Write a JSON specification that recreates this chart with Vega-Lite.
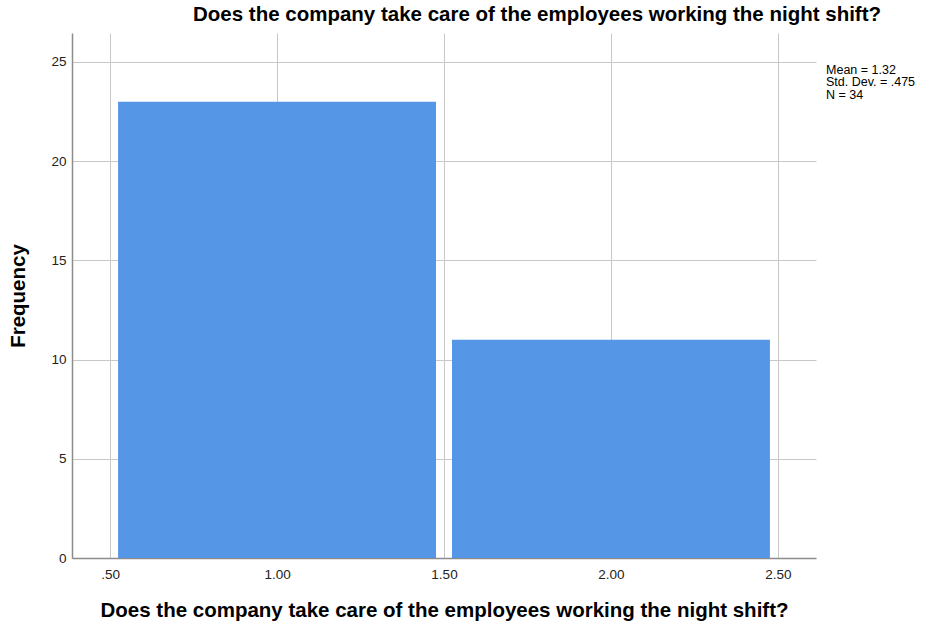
{
  "$schema": "https://vega.github.io/schema/vega-lite/v6.json",
  "width": 744,
  "height": 525,
  "autosize": {"type": "none"},
  "padding": {"left": 72, "top": 33, "right": 115, "bottom": 70},
  "background": "white",
  "title": {
    "text": "Does the company take care of the employees working the night shift?",
    "anchor": "start",
    "frame": "group",
    "dx": 121,
    "offset": 8,
    "font": "Liberation Sans",
    "fontSize": 20.5,
    "fontWeight": "bold",
    "color": "#000000"
  },
  "config": {
    "view": {"stroke": null},
    "axis": {
      "labelFont": "Liberation Sans",
      "labelFontSize": 13.5,
      "labelColor": "#222222",
      "titleFont": "Liberation Sans",
      "titleFontSize": 20.5,
      "titleFontWeight": "bold",
      "titleColor": "#000000",
      "gridColor": "#c8c8c8",
      "gridWidth": 1,
      "domainColor": "#8c8c8c",
      "domainWidth": 1.5,
      "ticks": false
    }
  },
  "layer": [
    {
      "data": {"values": [
        {"bin_start": 0.5, "bin_end": 1.5, "count": 23},
        {"bin_start": 1.5, "bin_end": 2.5, "count": 11}
      ]},
      "mark": {"type": "bar", "color": "#5596e6", "xOffset": 8, "x2Offset": -8, "clip": false},
      "encoding": {
        "x": {
          "field": "bin_start",
          "type": "quantitative",
          "scale": {"domain": [0.386, 2.614], "nice": false, "zero": false},
          "axis": {
            "title": "Does the company take care of the employees working the night shift?",
            "values": [0.5, 1, 1.5, 2, 2.5],
            "labelExpr": "datum.value < 1 ? '.50' : format(datum.value, '.2f')",
            "labelPadding": 9,
            "titlePadding": 20,
            "zindex": 0
          }
        },
        "x2": {"field": "bin_end"},
        "y": {
          "field": "count",
          "type": "quantitative",
          "scale": {"domain": [0, 26.46], "nice": false},
          "axis": {
            "title": "Frequency",
            "values": [0, 5, 10, 15, 20, 25],
            "labelPadding": 6,
            "titlePadding": 22,
            "zindex": 0
          }
        },
        "y2": {"datum": 0}
      }
    },
    {
      "data": {"values": [
        {"x": 2.644, "y": 24.9, "label": ["Mean = 1.32", "Std. Dev. = .475", "N = 34"]}
      ]},
      "mark": {"type": "text", "align": "left", "baseline": "top", "font": "Liberation Sans", "fontSize": 12.5, "lineHeight": 12.5, "color": "#000000", "clip": false},
      "encoding": {
        "x": {"field": "x", "type": "quantitative"},
        "y": {"field": "y", "type": "quantitative"},
        "text": {"field": "label"}
      }
    }
  ]
}
